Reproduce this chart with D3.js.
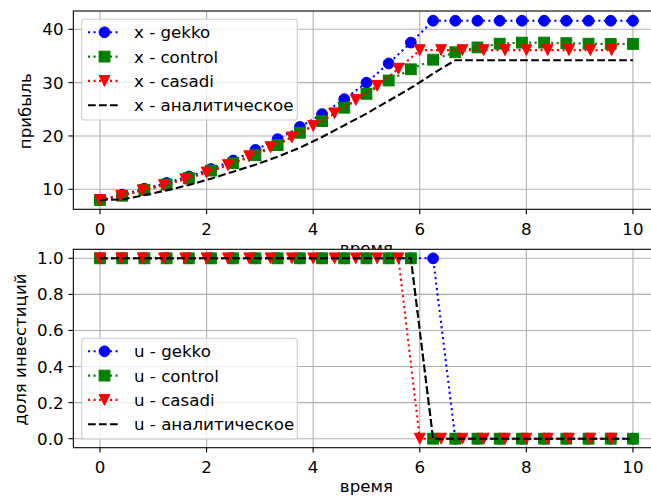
<!DOCTYPE html>
<html>
<head>
<meta charset="utf-8">
<script src="https://cdn.jsdelivr.net/npm/d3@7"></script>
<style>
  body { margin: 0; background: #fff; }
  text { font-family: "DejaVu Sans", sans-serif; }
</style>
</head>
<body>
<div id="chart"></div>
<script>
// time grids
var tGrid = [0, 0.417, 0.833, 1.25, 1.667, 2.083, 2.5, 2.917, 3.333, 3.75, 4.167, 4.583, 5,
  5.417, 5.833, 6.25, 6.667, 7.083, 7.5, 7.917, 8.333, 8.75, 9.167, 9.583, 10];
var tCasadi = [0, 0.4, 0.8, 1.2, 1.6, 2, 2.4, 2.8, 3.2, 3.6, 4, 4.4, 4.8, 5.2, 5.6, 6,
  6.4, 6.8, 7.2, 7.6, 8, 8.4, 8.8, 9.2, 9.6];

// profit x
var xGekko = [8.0, 9.0, 10.1, 11.2, 12.4, 13.8, 15.4, 17.4, 19.4, 21.7, 24.1, 26.9, 30.0,
  33.6, 37.5, 41.6, 41.6, 41.6, 41.6, 41.6, 41.6, 41.6, 41.6, 41.6, 41.6];
var xControl = [8.0, 8.8, 9.9, 10.9, 12.1, 13.5, 14.9, 16.4, 18.3, 20.6, 22.8, 25.3, 27.9,
  30.4, 32.5, 34.3, 35.7, 36.6, 37.3, 37.5, 37.5, 37.4, 37.3, 37.25, 37.25];
var xCasadi = [8.0, 8.75, 9.8, 10.8, 11.9, 13.15, 14.55, 16.2, 17.9, 19.75, 21.9, 24.25, 26.75,
  29.4, 32.6, 36.1, 36.1, 36.1, 36.1, 36.1, 36.1, 36.1, 36.1, 36.1, 36.1];
var xAnalytic = [8.0, 8.1, 8.9, 9.8, 10.8, 12.0, 13.3, 14.6, 16.1, 17.8, 19.8, 22.0, 24.2,
  26.6, 29.0, 31.7, 34.2, 34.2, 34.2, 34.2, 34.2, 34.2, 34.2, 34.2, 34.2];

// investment share u
var uGekko = [1, 1, 1, 1, 1, 1, 1, 1, 1, 1, 1, 1, 1, 1, 1, 1, 0, 0, 0, 0, 0, 0, 0, 0, 0];
var uControl = [1, 1, 1, 1, 1, 1, 1, 1, 1, 1, 1, 1, 1, 1, 1, 0, 0, 0, 0, 0, 0, 0, 0, 0, 0];
var uCasadi = [1, 1, 1, 1, 1, 1, 1, 1, 1, 1, 1, 1, 1, 1, 1, 0, 0, 0, 0, 0, 0, 0, 0, 0, 0];
var uAnalytic = [1, 1, 1, 1, 1, 1, 1, 1, 1, 1, 1, 1, 1, 1, 1, 0, 0, 0, 0, 0, 0, 0, 0, 0, 0];

var xTicks = [0, 2, 4, 6, 8, 10];
var topTicks = [10, 20, 30, 40];
var botTicks = [0, 0.2, 0.4, 0.6, 0.8, 1.0];

var width = 651, height = 499;
var left = 73.35, right = 659.6;
var fs = '16.67px';

var svg = d3.select('#chart').append('svg')
    .attr('width', width)
    .attr('height', height);

var x = d3.scaleLinear().domain([-0.5, 10.5]).range([left, right]);

function drawMarker(g, shape, color, cx, cy) {
  var r = 5.4;
  if (shape === 'o') {
    g.append('circle').attr('cx', cx).attr('cy', cy).attr('r', r)
      .attr('fill', color).attr('stroke', color).attr('stroke-width', 1);
  } else if (shape === 's') {
    g.append('rect').attr('x', cx - r).attr('y', cy - r).attr('width', 2 * r).attr('height', 2 * r)
      .attr('fill', color).attr('stroke', color).attr('stroke-width', 1);
  } else if (shape === 'v') {
    g.append('path').attr('d', `M${cx - r},${cy - r}L${cx + r},${cy - r}L${cx},${cy + r}Z`)
      .attr('fill', color).attr('stroke', color).attr('stroke-width', 1);
  }
}

function dashFor(style) {
  return style === ':' ? '2.1,3.4' : '7.7,3.3';
}

function panel(id, top, bottom, yDomain, yTicks, fmt, series, label, legendTop, xlabelBaseline, ylabelX) {
  var y = d3.scaleLinear().domain(yDomain).range([bottom, top]);
  var g = svg.append('g');

  // white background covers anything below
  g.append('rect').attr('x', left).attr('y', top).attr('width', right - left).attr('height', bottom - top)
    .attr('fill', '#fff');

  // grid
  g.selectAll('.gx').data(xTicks).enter().append('line')
    .attr('x1', d => x(d)).attr('x2', d => x(d)).attr('y1', top).attr('y2', bottom)
    .attr('stroke', '#b0b0b0').attr('stroke-width', 1.1);
  g.selectAll('.gy').data(yTicks).enter().append('line')
    .attr('x1', left).attr('x2', right).attr('y1', d => y(d)).attr('y2', d => y(d))
    .attr('stroke', '#b0b0b0').attr('stroke-width', 1.1);

  svg.append('clipPath').attr('id', id).append('rect')
    .attr('x', left).attr('y', top).attr('width', right - left).attr('height', bottom - top);

  var plot = g.append('g').attr('clip-path', `url(#${id})`);
  series.forEach(function(s) {
    var pts = s.t.map((t, i) => [x(t), y(s.v[i])]);
    plot.append('path')
      .attr('d', d3.line()(pts))
      .attr('fill', 'none')
      .attr('stroke', s.color)
      .attr('stroke-width', 2.08)
      .attr('stroke-dasharray', dashFor(s.style));
    if (s.marker) {
      var mg = plot.append('g');
      pts.forEach(p => drawMarker(mg, s.marker, s.color, p[0], p[1]));
    }
  });

  // spines
  g.append('rect').attr('x', left).attr('y', top).attr('width', right - left).attr('height', bottom - top)
    .attr('fill', 'none').attr('stroke', '#000').attr('stroke-width', 1.1);

  // x axis ticks
  var xa = g.append('g');
  xTicks.forEach(function(d) {
    xa.append('line').attr('x1', x(d)).attr('x2', x(d)).attr('y1', bottom).attr('y2', bottom + 4.9)
      .attr('stroke', '#000').attr('stroke-width', 1.1);
    xa.append('text').attr('x', x(d)).attr('y', bottom + 25.7)
      .attr('text-anchor', 'middle').attr('font-size', fs).text(d);
  });
  // y axis ticks
  yTicks.forEach(function(d) {
    xa.append('line').attr('x1', left - 4.9).attr('x2', left).attr('y1', y(d)).attr('y2', y(d))
      .attr('stroke', '#000').attr('stroke-width', 1.1);
    xa.append('text').attr('x', left - 9.8).attr('y', y(d) + 6)
      .attr('text-anchor', 'end').attr('font-size', fs).text(fmt(d));
  });

  g.append('text').attr('x', (left + right) / 2).attr('y', xlabelBaseline)
    .attr('text-anchor', 'middle').attr('font-size', fs).text('время');
  g.append('text')
    .attr('transform', `translate(${ylabelX},${(top + bottom) / 2 + 1})rotate(-90)`)
    .attr('text-anchor', 'middle').attr('font-size', fs).text(label);

  // legend
  var lg = g.append('g');
  lg.append('rect').attr('x', 81.7).attr('y', legendTop).attr('width', 215.6).attr('height', 100.7)
    .attr('rx', 2.8).attr('fill', 'rgba(255,255,255,0.8)').attr('stroke', '#cccccc').attr('stroke-width', 1.1);
  series.forEach(function(s, i) {
    var cy = legendTop + 13 + i * 24.3;
    lg.append('line').attr('x1', 88).attr('x2', 121).attr('y1', cy).attr('y2', cy)
      .attr('stroke', s.color).attr('stroke-width', 2.08).attr('stroke-dasharray', dashFor(s.style));
    if (s.marker) drawMarker(lg, s.marker, s.color, 104.5, cy);
    lg.append('text').attr('x', 134).attr('y', cy + 6).attr('font-size', fs).text(s.name);
  });
}

panel('clipTop', 11, 209.3, [6.25, 43.43], topTicks, d => d,
  [
    {name: 'x - gekko', t: tGrid, v: xGekko, color: '#0000ff', style: ':', marker: 'o'},
    {name: 'x - control', t: tGrid, v: xControl, color: '#008000', style: ':', marker: 's'},
    {name: 'x - casadi', t: tCasadi, v: xCasadi, color: '#ff0000', style: ':', marker: 'v'},
    {name: 'x - аналитическое', t: tGrid, v: xAnalytic, color: '#000', style: '--'}
  ], 'прибыль', 19.3, 253.5, 31);

panel('clipBot', 249.3, 447.7, [-0.05, 1.05], botTicks, d => d.toFixed(1),
  [
    {name: 'u - gekko', t: tGrid, v: uGekko, color: '#0000ff', style: ':', marker: 'o'},
    {name: 'u - control', t: tGrid, v: uControl, color: '#008000', style: ':', marker: 's'},
    {name: 'u - casadi', t: tCasadi, v: uCasadi, color: '#ff0000', style: ':', marker: 'v'},
    {name: 'u - аналитическое', t: tGrid, v: uAnalytic, color: '#000', style: '--'}
  ], 'доля инвестиций', 338.3, 492, 26);
</script>
</body>
</html>
